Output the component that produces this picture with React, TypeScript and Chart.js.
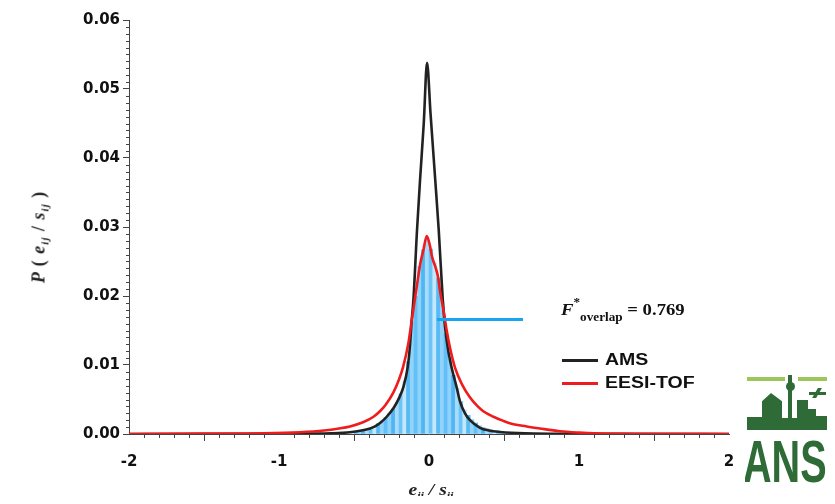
import React, { useEffect, useRef } from 'react';
import { Chart, registerables } from 'chart.js';

Chart.register(...registerables);

// ---------- data ----------
const xMin = -2;
const xMax = 2;
const yMin = 0;
const yMax = 0.06;
const xTickStep = 1;
const yTickStep = 0.01;
const xMinorStep = 0.1;
const yMinorStep = 0.001;

const amsX = [-2, -1.0, -0.8, -0.65, -0.527, -0.45, -0.393, -0.36, -0.32, -0.282, -0.235, -0.2, -0.171, -0.142, -0.128, -0.115, -0.104, -0.08, -0.06, -0.035, -0.013, 0.01, 0.042, 0.065, 0.092, 0.107, 0.125, 0.15, 0.184, 0.207, 0.24, 0.273, 0.34, 0.4, 0.473, 0.64, 1.0, 2];
const amsY = [0, 0.00002, 0.00005, 0.0001, 0.00025, 0.0005, 0.0008, 0.0011, 0.0017, 0.0025, 0.0038, 0.0052, 0.0068, 0.0097, 0.0125, 0.0165, 0.0194, 0.0295, 0.0367, 0.045, 0.0538, 0.0465, 0.0367, 0.0295, 0.0194, 0.0155, 0.0125, 0.0097, 0.0068, 0.0047, 0.003, 0.002, 0.0009, 0.0005, 0.0003, 0.0001, 0.00002, 0];

const eesiX = [-2, -1.5, -1.1, -0.86, -0.7, -0.6, -0.527, -0.44, -0.37, -0.327, -0.29, -0.238, -0.2, -0.173, -0.138, -0.115, -0.082, -0.06, -0.038, -0.015, 0.007, 0.02, 0.04, 0.06, 0.073, 0.1, 0.118, 0.14, 0.175, 0.22, 0.27, 0.32, 0.362, 0.43, 0.496, 0.55, 0.651, 0.74, 0.873, 1.0, 1.1, 1.5, 2];
const eesiY = [0, 0.00005, 0.0001, 0.00025, 0.0005, 0.0008, 0.0011, 0.0017, 0.0025, 0.0033, 0.0042, 0.006, 0.0079, 0.0097, 0.0131, 0.0165, 0.0213, 0.0245, 0.0266, 0.0287, 0.0272, 0.0257, 0.0244, 0.0228, 0.0208, 0.0175, 0.015, 0.0125, 0.0095, 0.0072, 0.0054, 0.0041, 0.0033, 0.0025, 0.0019, 0.0015, 0.0011, 0.0008, 0.0004, 0.0002, 0.0001, 0.00004, 0];

const binX = [-0.4875, -0.4625, -0.4375, -0.4125, -0.3875, -0.3625, -0.3375, -0.3125, -0.2875, -0.2625, -0.2375, -0.2125, -0.1875, -0.1625, -0.1375, -0.1125, -0.0875, -0.0625, -0.0375, -0.0125, 0.0125, 0.0375, 0.0625, 0.0875, 0.1125, 0.1375, 0.1625, 0.1875, 0.2125, 0.2375, 0.2625, 0.2875, 0.3125, 0.3375, 0.3625, 0.3875, 0.4125, 0.4375, 0.4625, 0.4875];
const binY = [0.0004, 0.0005, 0.0006, 0.0007, 0.0008, 0.0011, 0.0015, 0.0019, 0.0024, 0.003, 0.0036, 0.0046, 0.0058, 0.0077, 0.0105, 0.0165, 0.02, 0.0243, 0.0267, 0.0285, 0.0268, 0.0248, 0.0226, 0.019, 0.0145, 0.0108, 0.0085, 0.0066, 0.0047, 0.0035, 0.0027, 0.0021, 0.0016, 0.0012, 0.0009, 0.0008, 0.0006, 0.0005, 0.0004, 0.0003];

const markerX = [0.053, 0.627];
const markerY = [0.0166, 0.0166];

const seriesNames = ['AMS', 'EESI-TOF'];
const overlapValue = '0.769';

// ---------- styles ----------
const W = 819;
const H = 488;
const binColors = ['#62bff7', '#8fd2fa', '#4fb5f3', '#a9dcfb', '#6cc3f7', '#c3e8fd', '#58baf5', '#92d3f9'];
const tickFont = { family: '"DejaVu Sans", "Liberation Sans", sans-serif', weight: 'bold' as const, size: 15 };
const serif = '"Liberation Serif", "Times New Roman", serif';
const sans = '"Liberation Sans", Arial, sans-serif';
const green = '#2e6b36';
const lightGreen = '#9cc65b';

const minorTicks = {
  id: 'minorTicks',
  afterDraw(chart: any) {
    const { ctx, chartArea, scales } = chart;
    const x = scales.x;
    const y = scales.y;
    ctx.save();
    ctx.strokeStyle = '#444';
    ctx.lineWidth = 1;
    ctx.beginPath();
    const ny = Math.round((yMax - yMin) / yMinorStep);
    for (let i = 0; i <= ny; i++) {
      if (i % 10 === 0) continue;
      const py = Math.round(y.getPixelForValue(yMin + i * yMinorStep)) + 0.5;
      ctx.moveTo(chartArea.left - 3, py);
      ctx.lineTo(chartArea.left, py);
    }
    const nx = Math.round((xMax - xMin) / xMinorStep);
    for (let i = 0; i <= nx; i++) {
      if (i % 10 === 0) continue;
      const px = Math.round(x.getPixelForValue(xMin + i * xMinorStep)) + 0.5;
      ctx.moveTo(px, chartArea.bottom);
      ctx.lineTo(px, chartArea.bottom + 4);
    }
    ctx.stroke();
    ctx.restore();
  },
};

export default function App() {
  const ref = useRef<HTMLCanvasElement>(null);

  useEffect(() => {
    const chart = new Chart(ref.current as HTMLCanvasElement, {
      type: 'line',
      data: {
        datasets: [
          {
            type: 'line',
            label: 'marker',
            data: markerX.map((x, i) => ({ x, y: markerY[i] })),
            borderColor: '#19a5ee',
            borderWidth: 3,
            pointRadius: 0,
            order: 0,
          },
          {
            type: 'line',
            label: seriesNames[1],
            data: eesiX.map((x, i) => ({ x, y: eesiY[i] })),
            borderColor: '#ee1c1c',
            borderWidth: 2.6,
            pointRadius: 0,
            cubicInterpolationMode: 'monotone',
            order: 1,
          },
          {
            type: 'line',
            label: seriesNames[0],
            data: amsX.map((x, i) => ({ x, y: amsY[i] })),
            borderColor: '#222222',
            borderWidth: 2.6,
            pointRadius: 0,
            cubicInterpolationMode: 'monotone',
            order: 2,
          },
          {
            type: 'bar',
            label: 'overlap',
            data: binX.map((x, i) => ({ x, y: binY[i] })),
            backgroundColor: binX.map((_, i) => binColors[i % binColors.length]),
            borderWidth: 0,
            barPercentage: 1,
            categoryPercentage: 1,
            order: 3,
          } as any,
        ],
      },
      options: {
        responsive: false,
        animation: false,
        layout: { padding: { left: 0, top: 11, right: 98, bottom: 0 } },
        plugins: { legend: { display: false }, tooltip: { enabled: false } },
        scales: {
          x: {
            type: 'linear',
            min: xMin,
            max: xMax,
            offset: false,
            afterFit: (s: any) => { s.height = 62; },
            ticks: { stepSize: xTickStep, font: tickFont, color: '#111', padding: 12, maxRotation: 0 },
            grid: { drawOnChartArea: false, drawTicks: true, tickLength: 7, color: '#444' },
            border: { display: true, color: '#444', width: 1 },
          },
          y: {
            type: 'linear',
            min: yMin,
            max: yMax,
            afterFit: (s: any) => { s.width = 121; },
            ticks: {
              stepSize: yTickStep,
              font: tickFont,
              color: '#111',
              padding: 3,
              callback: (v: any) => Number(v).toFixed(2),
            },
            grid: { drawOnChartArea: false, drawTicks: true, tickLength: 6, color: '#444' },
            border: { display: true, color: '#444', width: 1 },
          },
        },
      },
      plugins: [minorTicks],
    } as any);
    return () => chart.destroy();
  }, []);

  const sub = { fontSize: '0.62em', verticalAlign: '-0.35em' } as React.CSSProperties;

  return (
    <div style={{ position: 'relative', width: W, height: H }}>
      <canvas ref={ref} width={W} height={H} style={{ display: 'block', width: W, height: H }} />

      {/* y axis title */}
      <div
        style={{
          position: 'absolute', left: 32, top: 229, transform: 'translate(-50%, -50%) rotate(-90deg)',
          fontFamily: serif, fontWeight: 'bold', fontStyle: 'italic', fontSize: 18, whiteSpace: 'nowrap',
          lineHeight: 1, color: '#222', letterSpacing: 1,
        }}
      >
        <span>P</span> <span style={{ fontStyle: 'normal' }}>(</span> <span>e</span><span style={sub}>ij</span> <span style={{ fontStyle: 'normal' }}>/</span> <span>s</span><span style={sub}>ij</span> <span style={{ fontStyle: 'normal' }}>)</span>
      </div>

      {/* x axis title */}
      <div
        style={{
          position: 'absolute', left: 423, top: 483, transform: 'translate(-50%, -50%) scaleX(1.15)',
          fontFamily: serif, fontWeight: 'bold', fontStyle: 'italic', fontSize: 17, whiteSpace: 'nowrap',
          lineHeight: 1, color: '#222',
        }}
      >
        <span>e</span><span style={sub}>ij</span> / <span>s</span><span style={sub}>ij</span>
      </div>

      {/* overlap annotation */}
      <div
        style={{
          position: 'absolute', left: 553, top: 293, transform: 'scaleX(1.1)', transformOrigin: 'left top',
          fontFamily: serif, fontWeight: 'bold', fontSize: 17, whiteSpace: 'nowrap', lineHeight: 1, color: '#111',
        }}
      >
        <span style={{ fontStyle: 'italic' }}>F</span>
        <span style={{ fontSize: 12, position: 'relative', top: -9 }}>*</span>
        <span style={{ fontSize: 12, position: 'relative', top: 6 }}>overlap</span>
        <span> = {overlapValue}</span>
      </div>

      {/* legend */}
      {seriesNames.map((name, i) => (
        <div key={name} style={{ position: 'absolute', left: 554, top: 344 + i * 23, height: 16, display: 'flex', alignItems: 'center', whiteSpace: 'nowrap' }}>
          <div style={{ width: 36, height: 3, background: i === 0 ? '#222' : '#ee1c1c' }} />
          <div
            style={{
              marginLeft: 7, fontFamily: sans, fontWeight: 'bold', fontSize: 16, lineHeight: 1, color: '#111',
              transform: 'scaleX(1.22)', transformOrigin: 'left center',
            }}
          >
            {name}
          </div>
        </div>
      ))}

      {/* logo (partially cropped) */}
      <div style={{ position: 'absolute', left: 737, top: 365, width: 82, height: 123, overflow: 'hidden' }}>
        <div style={{ position: 'absolute', left: 2, top: 4, width: 38, height: 3.5, background: lightGreen }} />
        <div style={{ position: 'absolute', left: 53, top: 4, width: 29, height: 3.5, background: lightGreen }} />
        <div style={{ position: 'absolute', left: 2, top: 44, width: 15, height: 13, background: green }} />
        <div style={{ position: 'absolute', left: 17, top: 20, width: 20, height: 37, background: green, clipPath: 'polygon(45% 0, 100% 22%, 100% 100%, 0 100%, 0 22%)' }} />
        <div style={{ position: 'absolute', left: 36, top: 45, width: 8, height: 12, background: green }} />
        <div style={{ position: 'absolute', left: 43, top: 2, width: 3.5, height: 55, background: green }} />
        <div style={{ position: 'absolute', left: 40.5, top: 9, width: 9, height: 9, borderRadius: '50%', background: green }} />
        <div style={{ position: 'absolute', left: 46, top: 45, width: 7, height: 12, background: green }} />
        <div style={{ position: 'absolute', left: 52, top: 27, width: 11, height: 30, background: green }} />
        <div style={{ position: 'absolute', left: 62, top: 36, width: 9, height: 21, background: green }} />
        <div style={{ position: 'absolute', left: 70, top: 43, width: 12, height: 14, background: green }} />
        <div style={{ position: 'absolute', left: 64, top: 19, width: 17, height: 2.5, background: green }} />
        <div style={{ position: 'absolute', left: 70, top: 15, width: 4, height: 10, background: green, transform: 'skewX(-30deg)' }} />
        <div
          style={{
            position: 'absolute', left: -2, top: 59, fontFamily: sans, fontWeight: 'bold', fontSize: 60, lineHeight: 1,
            color: green, transform: 'scaleX(0.66)', transformOrigin: 'left top', whiteSpace: 'nowrap',
          }}
        >
          ANS
        </div>
      </div>
    </div>
  );
}
